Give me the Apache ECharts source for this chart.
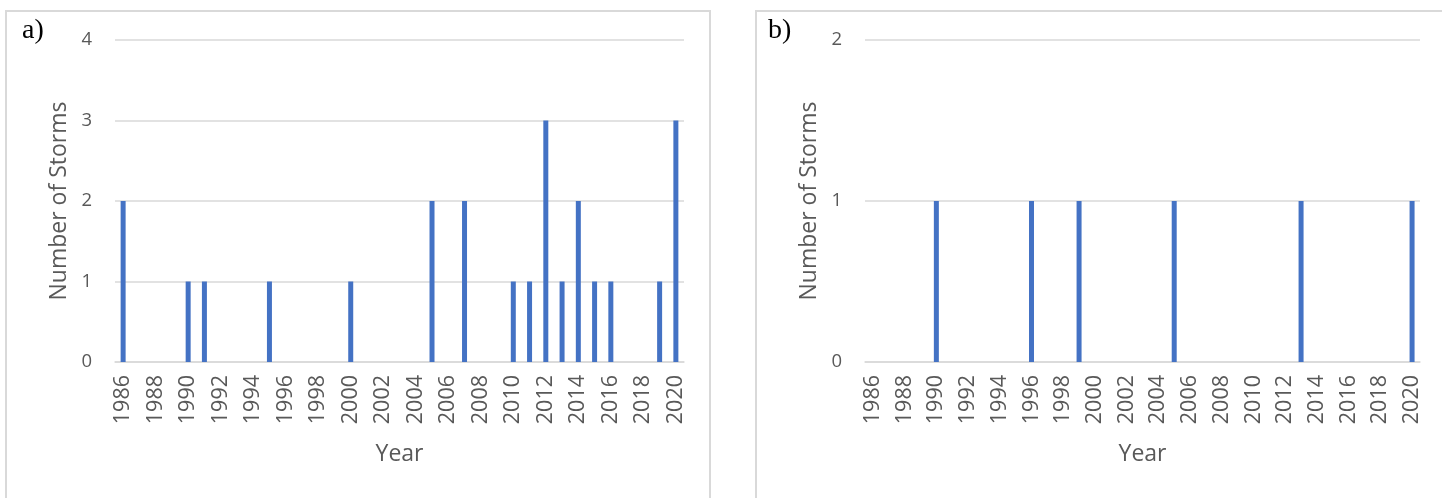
<!DOCTYPE html>
<html>
<head>
<meta charset="utf-8">
<title>Number of Storms per Year</title>
<script src="https://cdn.jsdelivr.net/npm/echarts@6/dist/echarts.min.js"></script>
<style>
  html, body { margin: 0; padding: 0; background: #ffffff; }
  #chart { width: 1442px; height: 498px; }
</style>
</head>
<body>
<div id="chart"></div>
<script>
// Years on the category axis (1986–2020)
const years = ['1986','1987','1988','1989','1990','1991','1992','1993','1994','1995',
               '1996','1997','1998','1999','2000','2001','2002','2003','2004','2005',
               '2006','2007','2008','2009','2010','2011','2012','2013','2014','2015',
               '2016','2017','2018','2019','2020'];

// Panel a) storms per year
const stormsA = [2,0,0,0,1,1,0,0,0,1,
                 0,0,0,0,1,0,0,0,0,2,
                 0,2,0,0,1,1,3,1,2,1,
                 1,0,0,1,3];

// Panel b) storms per year
const stormsB = [0,0,0,0,1,0,0,0,0,0,
                 1,0,0,1,0,0,0,0,0,1,
                 0,0,0,0,0,0,0,1,0,0,
                 0,0,0,0,1];

const panelLabels = ['a)', 'b)'];
const yMax = [4, 2];

const textColor = '#595959';
const gridColor = '#d9d9d9';
const barColor = '#4472C4';
const sansFont = '"Open Sans", "Noto Sans", sans-serif';

function xAxisFor(idx) {
  return {
    type: 'category',
    gridIndex: idx,
    data: years,
    boundaryGap: true,
    name: 'Year',
    nameLocation: 'middle',
    nameGap: 81,
    nameTextStyle: { color: textColor, fontSize: 23, fontFamily: sansFont },
    axisLine: { show: true, lineStyle: { color: gridColor, width: 1.5 } },
    axisTick: { show: false },
    axisLabel: {
      interval: 1,
      rotate: 90,
      margin: 13,
      color: textColor,
      fontSize: 21.5,
      fontFamily: sansFont
    }
  };
}

function yAxisFor(idx) {
  return {
    type: 'value',
    gridIndex: idx,
    min: 0,
    max: yMax[idx],
    interval: 1,
    name: 'Number of Storms',
    nameLocation: 'middle',
    nameRotate: 90,
    nameGap: 44,
    nameTextStyle: { color: textColor, fontSize: 23, fontFamily: sansFont },
    axisLine: { show: false },
    axisTick: { show: false },
    axisLabel: { margin: 23, color: textColor, fontSize: 18.5, fontFamily: sansFont },
    splitLine: { show: true, lineStyle: { color: gridColor, width: 1.5 } }
  };
}

const chart = echarts.init(document.getElementById('chart'), null, { renderer: 'canvas' });

chart.setOption({
  backgroundColor: '#ffffff',
  animation: false,
  grid: [
    { left: 115, right: 758, top: 40, bottom: 136 },
    { left: 865, right: 22, top: 40, bottom: 136 }
  ],
  xAxis: [xAxisFor(0), xAxisFor(1)],
  yAxis: [yAxisFor(0), yAxisFor(1)],
  series: [
    {
      type: 'bar', xAxisIndex: 0, yAxisIndex: 0,
      data: stormsA, barWidth: 5,
      itemStyle: { color: barColor }
    },
    {
      type: 'bar', xAxisIndex: 1, yAxisIndex: 1,
      data: stormsB, barWidth: 5,
      itemStyle: { color: barColor }
    }
  ],
  graphic: [
    // panel frames
    {
      type: 'rect', silent: true, z: -1,
      shape: { x: 6, y: 11, width: 704, height: 520 },
      style: { fill: null, stroke: gridColor, lineWidth: 2 }
    },
    {
      type: 'rect', silent: true, z: -1,
      shape: { x: 756, y: 11, width: 720, height: 520 },
      style: { fill: null, stroke: gridColor, lineWidth: 2 }
    },
    // panel letters
    {
      type: 'text', left: 22, top: 17,
      style: { text: panelLabels[0], fill: '#000000', font: '28px "Liberation Serif", "DejaVu Serif", serif' }
    },
    {
      type: 'text', left: 768, top: 17,
      style: { text: panelLabels[1], fill: '#000000', font: '28px "Liberation Serif", "DejaVu Serif", serif' }
    }
  ]
});
</script>
</body>
</html>
